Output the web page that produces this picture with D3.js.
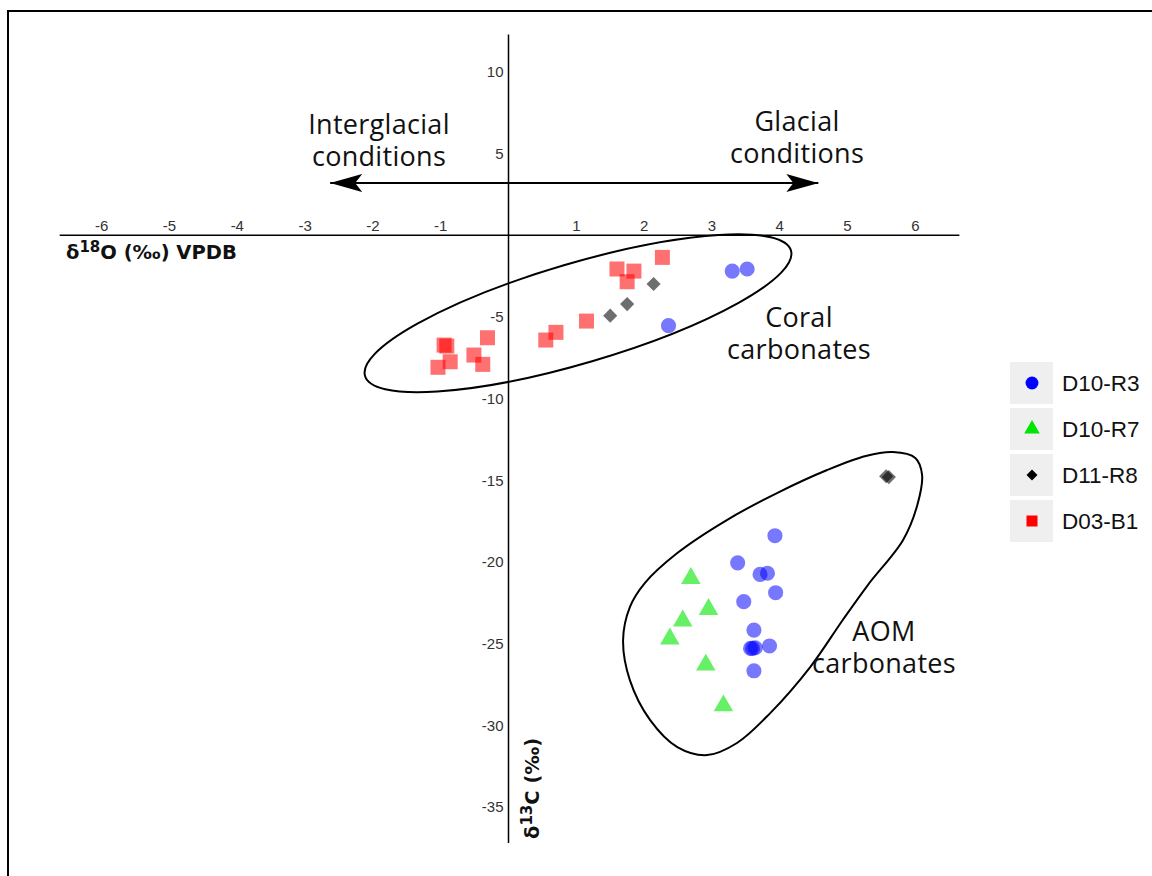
<!DOCTYPE html>
<html>
<head>
    <meta charset="utf-8">
    <title>δ13C vs δ18O carbonates</title>
    <script src="https://d3js.org/d3.v7.min.js"></script>
    <style>
        body { margin: 0; background: #fff; }
        .tick-label {
            font-family: "Liberation Sans", Arial, sans-serif;
            font-size: 15px;
            fill: #333;
        }
        .axis-title {
            font-family: "DejaVu Sans", Verdana, sans-serif;
            font-size: 19.5px;
            font-weight: bold;
            fill: #111;
        }
        .note {
            font-family: "Open Sans", "Noto Sans", sans-serif;
            font-size: 27px;
            letter-spacing: 0.3px;
            fill: #111;
        }
        .legend-label {
            font-family: "Liberation Sans", Arial, sans-serif;
            font-size: 22.5px;
            fill: #111;
        }
    </style>
</head>
<body>
    <div id="chart"></div>
    <script>
        const width = 1152;
        const height = 876;

        // tick values
        const xTicks = [-6, -5, -4, -3, -2, -1, 1, 2, 3, 4, 5, 6];
        const yTicks = [10, 5, -5, -10, -15, -20, -25, -30, -35];

        // [δ18O, δ13C] per sample series
        const d10R3 = [[3.30, -2.19], [3.52, -2.06], [2.36, -5.53],
            [3.93, -18.39], [3.38, -20.05], [3.71, -20.76], [3.82, -20.69], [3.94, -21.88],
            [3.47, -22.43], [3.62, -24.17], [3.57, -25.29], [3.60, -25.29], [3.64, -25.25],
            [3.85, -25.14], [3.62, -26.66]];
        const d10R7 = [[2.69, -21.0], [2.95, -22.9], [2.57, -23.6], [2.38, -24.7], [2.91, -26.3], [3.17, -28.8]];
        const d11R8 = [[1.50, -4.92], [1.75, -4.21], [2.14, -2.98], [5.57, -14.75], [5.61, -14.80]];
        const d03B1 = [[-0.31, -6.27], [-0.95, -6.72], [-0.91, -6.78], [-0.86, -7.74], [-1.04, -8.08],
            [-0.51, -7.33], [-0.38, -7.90], [0.55, -6.41], [0.70, -5.94], [1.15, -5.25],
            [1.60, -2.06], [1.85, -2.19], [1.75, -2.84], [2.27, -1.35]];

        const seriesNames = ["D10-R3", "D10-R7", "D11-R8", "D03-B1"];

        // outline of the AOM group, in data units
        const aomOutline = [[5.67, -13.27], [6.00, -13.63], [6.10, -14.67], [6.03, -16.51], [5.82, -18.65],
            [5.30, -21.41], [4.93, -23.55], [4.45, -26.43], [3.86, -29.25], [3.37, -31.08],
            [2.93, -31.82], [2.49, -31.33], [2.09, -29.68], [1.79, -27.23], [1.69, -24.78],
            [1.79, -22.76], [2.01, -21.29], [2.49, -19.45], [3.22, -17.43], [3.96, -15.78],
            [4.70, -14.37], [5.27, -13.51]];
        // coral group ellipse centre (data units)
        const coralCentre = [1.025, -4.77];
        // arrow ends (data units)
        const arrowEnds = [[-2.63, 3.2], [4.57, 3.2]];

        const x = d3.scaleLinear().domain([-6, 6]).range([101.7, 915.3]);
        const y = d3.scaleLinear().domain([10, -35]).range([72, 807]);

        const svg = d3.select("#chart")
            .append("svg")
            .attr("width", width)
            .attr("height", height);

        // frame
        svg.append("path")
            .attr("d", `M8,${height + 5}V11H${width + 5}`)
            .attr("fill", "none")
            .attr("stroke", "#000")
            .attr("stroke-width", 2);

        // axes lines
        svg.append("line")
            .attr("x1", x(-6.62)).attr("x2", x(6.65))
            .attr("y1", y(0)).attr("y2", y(0))
            .attr("stroke", "#000").attr("stroke-width", 1.5);
        svg.append("line")
            .attr("x1", x(0)).attr("x2", x(0))
            .attr("y1", y(12.3)).attr("y2", y(-37.2))
            .attr("stroke", "#000").attr("stroke-width", 1.5);

        svg.selectAll(".xt")
            .data(xTicks)
            .join("text")
            .attr("class", "tick-label")
            .attr("x", d => x(d))
            .attr("y", y(0) - 4)
            .attr("text-anchor", "middle")
            .text(d => d);

        svg.selectAll(".yt")
            .data(yTicks)
            .join("text")
            .attr("class", "tick-label")
            .attr("x", x(0) - 5)
            .attr("y", d => y(d))
            .attr("dy", "0.35em")
            .attr("text-anchor", "end")
            .text(d => d);

        // axis titles
        const xt = svg.append("text")
            .attr("class", "axis-title")
            .attr("x", 66)
            .attr("y", 259);
        xt.append("tspan").text("δ");
        xt.append("tspan").attr("dy", -7).style("font-size", "15px").text("18");
        xt.append("tspan").attr("dy", 7).text("O (‰) VPDB");

        const yt = svg.append("text")
            .attr("class", "axis-title")
            .attr("transform", "translate(539,839) rotate(-90)");
        yt.append("tspan").text("δ");
        yt.append("tspan").attr("dy", -7).style("font-size", "15px").text("13");
        yt.append("tspan").attr("dy", 7).text("C (‰)");

        // group outlines
        svg.append("ellipse")
            .attr("cx", 0).attr("cy", 0)
            .attr("rx", 222).attr("ry", 50)
            .attr("transform", `translate(${x(coralCentre[0])},${y(coralCentre[1])}) rotate(-16.4)`)
            .attr("fill", "none")
            .attr("stroke", "#000")
            .attr("stroke-width", 2);

        svg.append("path")
            .datum(aomOutline)
            .attr("d", d3.line().x(d => x(d[0])).y(d => y(d[1])).curve(d3.curveCatmullRomClosed))
            .attr("fill", "none")
            .attr("stroke", "#000")
            .attr("stroke-width", 2);

        // double arrow
        const defs = svg.append("defs");
        ["start", "end"].forEach(k => {
            defs.append("marker")
                .attr("id", "arrow-" + k)
                .attr("markerUnits", "userSpaceOnUse")
                .attr("viewBox", "0 -10 32 20")
                .attr("refX", k === "end" ? 32 : 0)
                .attr("refY", 0)
                .attr("markerWidth", 32)
                .attr("markerHeight", 20)
                .attr("orient", "auto")
                .append("path")
                .attr("d", k === "end" ? "M0,-9L32,0L0,9L7,0Z" : "M32,-9L0,0L32,9L25,0Z")
                .attr("fill", "#000");
        });
        svg.append("line")
            .attr("x1", x(arrowEnds[0][0])).attr("y1", y(arrowEnds[0][1]))
            .attr("x2", x(arrowEnds[1][0])).attr("y2", y(arrowEnds[1][1]))
            .attr("stroke", "#000").attr("stroke-width", 2)
            .attr("marker-start", "url(#arrow-start)")
            .attr("marker-end", "url(#arrow-end)");

        // annotations
        function note(lines, cx, cy, anchor) {
            const t = svg.append("text").attr("class", "note").attr("text-anchor", anchor || "middle");
            lines.forEach((s, i) => {
                t.append("tspan").attr("x", cx).attr("y", cy + i * 32).text(s);
            });
        }
        note(["Interglacial", "conditions"], 379, 134);
        note(["Glacial", "conditions"], 797, 131);
        note(["Coral", "carbonates"], 799, 327);
        note(["AOM", "carbonates"], 884, 641);

        // points
        const sym = {
            circle: d3.symbol().type(d3.symbolCircle),
            triangle: d3.symbol().type(d3.symbolTriangle),
            square: d3.symbol().type(d3.symbolSquare)
        };

        svg.selectAll(".r3")
            .data(d10R3)
            .join("path")
            .attr("transform", d => `translate(${x(d[0])},${y(d[1])})`)
            .attr("d", sym.circle.size(180)())
            .attr("fill", "#0000ff")
            .attr("fill-opacity", 0.53);

        svg.selectAll(".r7")
            .data(d10R7)
            .join("path")
            .attr("transform", d => `translate(${x(d[0])},${y(d[1])})`)
            .attr("d", sym.triangle.size(165)())
            .attr("fill", "#00e600")
            .attr("fill-opacity", 0.6);

        svg.selectAll(".r8")
            .data(d11R8)
            .join("path")
            .attr("transform", d => `translate(${x(d[0])},${y(d[1])}) rotate(45)`)
            .attr("d", sym.square.size(100)())
            .attr("fill", "#000")
            .attr("fill-opacity", 0.57);

        svg.selectAll(".b1")
            .data(d03B1)
            .join("path")
            .attr("transform", d => `translate(${x(d[0])},${y(d[1])})`)
            .attr("d", sym.square.size(225)())
            .attr("fill", "#ff0000")
            .attr("fill-opacity", 0.56);

        // legend
        const legendSym = [
            { type: d3.symbolCircle, size: 130, color: "#0000ff", rot: 0 },
            { type: d3.symbolTriangle, size: 105, color: "#00e600", rot: 0 },
            { type: d3.symbolSquare, size: 60, color: "#000", rot: 45 },
            { type: d3.symbolSquare, size: 121, color: "#ff0000", rot: 0 }
        ];
        const legend = svg.selectAll(".legend")
            .data(seriesNames)
            .join("g")
            .attr("transform", (d, i) => `translate(1010,${362 + i * 46})`);
        legend.append("rect")
            .attr("width", 43).attr("height", 42)
            .attr("fill", "#efefef");
        legend.append("path")
            .attr("transform", (d, i) => `translate(22,21) rotate(${legendSym[i].rot})`)
            .attr("d", (d, i) => d3.symbol().type(legendSym[i].type).size(legendSym[i].size)())
            .attr("fill", (d, i) => legendSym[i].color);
        legend.append("text")
            .attr("class", "legend-label")
            .attr("x", 52)
            .attr("y", 21)
            .attr("dy", "0.36em")
            .text(d => d);
    </script>
</body>
</html>
